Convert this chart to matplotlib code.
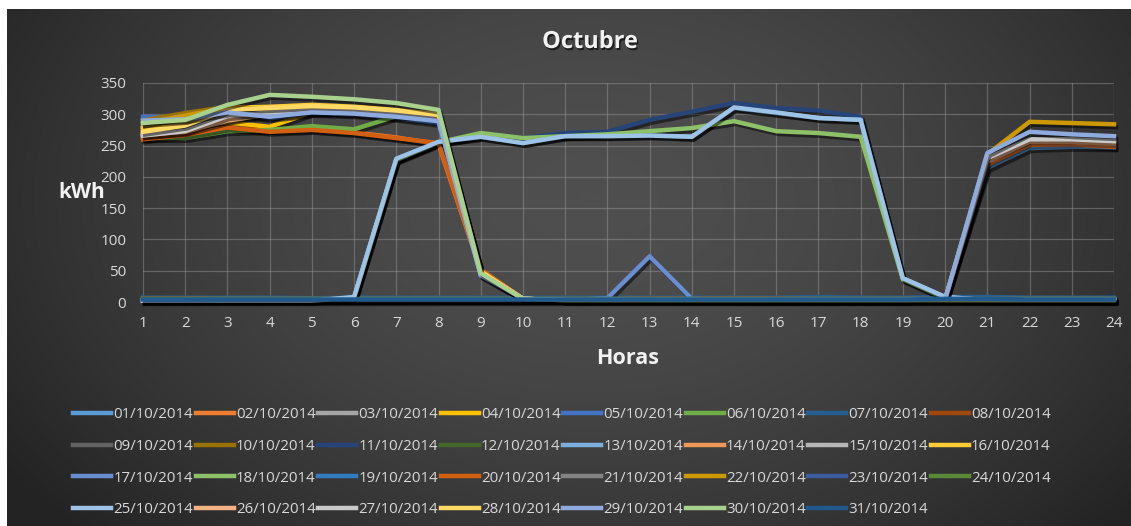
import numpy as np
import matplotlib.pyplot as plt
import matplotlib.patheffects as pe
from matplotlib.lines import Line2D

plt.rcParams['font.family'] = ['Open Sans', 'Noto Sans', 'DejaVu Sans']

horas = list(range(1, 25))

# consumo por hora (kWh) de cada dia de octubre
d01 = [280, 285, 300, 302, 305, 303, 298, 292, 45, 4, 3, 3, 3, 3, 3, 3, 3, 3, 3, 4, 214, 246, 248, 247]
d02 = [263, 269, 281, 274, 276, 271, 263, 252, 50, 4, 3, 3, 3, 3, 3, 3, 3, 3, 3, 4, 219, 251, 252, 248]
d03 = [265, 275, 296, 305, 307, 305, 301, 295, 45, 4, 3, 3, 3, 3, 3, 3, 3, 3, 3, 3, 3, 3, 3, 3]
d04 = [276, 283, 287, 280, 303, 305, 302, 298, 51, 5, 3, 3, 3, 3, 3, 3, 3, 3, 3, 3, 3, 3, 3, 3]
d05 = [296, 294, 302, 294, 302, 300, 294, 286, 42, 4, 3, 3, 3, 3, 3, 3, 3, 3, 3, 3, 3, 3, 3, 3]
d06 = [262, 262, 273, 275, 281, 276, 297, 300, 48, 5, 3, 3, 3, 3, 3, 3, 3, 3, 3, 3, 3, 3, 3, 3]
d07 = [7, 7, 7, 7, 6, 7, 7, 7, 7, 7, 7, 7, 7, 7, 7, 7, 8, 7, 7, 8, 8, 7, 7, 7]
d08 = [6, 6, 5, 5, 5, 5, 5, 5, 5, 5, 5, 5, 6, 6, 6, 6, 5, 5, 5, 5, 5, 5, 5, 5]
d09 = [3, 3, 3, 3, 3, 3, 3, 3, 3, 3, 3, 3, 3, 3, 3, 3, 3, 3, 3, 3, 3, 3, 3, 3]
d10 = [290, 302, 312, 310, 309, 307, 304, 300, 47, 5, 3, 3, 3, 3, 3, 3, 3, 3, 3, 3, 3, 3, 3, 3]
d11 = [3, 3, 3, 3, 3, 6, 226, 254, 266, 262, 270, 272, 291, 304, 318, 310, 306, 296, 37, 6, 4, 4, 4, 4]
d12 = [4, 4, 4, 4, 4, 4, 4, 4, 4, 4, 4, 4, 4, 4, 4, 4, 4, 4, 4, 4, 4, 4, 4, 4]
d13 = [2, 2, 2, 2, 2, 7, 228, 255, 264, 254, 265, 265, 267, 264, 310, 302, 294, 291, 38, 8, 3, 3, 3, 3]
d14 = [268, 275, 291, 304, 310, 308, 305, 298, 48, 5, 3, 3, 3, 3, 3, 3, 3, 3, 3, 3, 3, 3, 3, 3]
d15 = [270, 276, 300, 306, 309, 306, 302, 297, 46, 5, 3, 3, 3, 3, 3, 3, 3, 3, 3, 3, 3, 3, 3, 3]
d16 = [278, 285, 310, 312, 315, 312, 307, 300, 50, 5, 3, 3, 3, 3, 3, 3, 3, 3, 3, 3, 3, 3, 3, 3]
d17 = [3, 3, 3, 3, 3, 3, 3, 3, 3, 3, 3, 6, 73, 5, 3, 3, 3, 3, 3, 3, 3, 3, 3, 3]
d18 = [3, 3, 3, 3, 3, 6, 227, 255, 270, 262, 265, 268, 273, 278, 289, 273, 270, 264, 36, 6, 3, 3, 3, 3]
d19 = [4, 4, 4, 4, 4, 4, 4, 4, 4, 4, 4, 4, 4, 4, 4, 4, 4, 4, 4, 4, 4, 4, 4, 4]
d20 = [260, 267, 279, 272, 275, 270, 262, 254, 52, 5, 3, 3, 3, 3, 3, 3, 3, 3, 3, 3, 3, 3, 3, 3]
d21 = [2, 2, 2, 2, 2, 2, 2, 2, 2, 2, 2, 2, 2, 2, 2, 2, 2, 2, 2, 2, 2, 2, 2, 2]
d22 = [285, 298, 310, 309, 310, 308, 304, 299, 47, 5, 3, 3, 3, 3, 3, 3, 3, 3, 3, 4, 236, 288, 286, 284]
d23 = [4, 4, 4, 4, 4, 4, 4, 4, 4, 4, 4, 4, 4, 4, 4, 4, 4, 4, 4, 4, 4, 4, 4, 4]
d24 = [4, 4, 4, 4, 4, 4, 4, 4, 4, 4, 4, 4, 4, 4, 4, 4, 4, 4, 4, 4, 4, 4, 4, 4]
d25 = [2, 2, 2, 2, 2, 8, 229, 256, 264, 254, 265, 265, 266, 264, 311, 303, 294, 291, 38, 8, 3, 3, 3, 3]
d26 = [267, 272, 290, 300, 306, 305, 302, 296, 46, 5, 3, 3, 3, 3, 3, 3, 3, 3, 3, 4, 224, 256, 256, 253]
d27 = [266, 273, 297, 303, 306, 304, 300, 294, 45, 5, 3, 3, 3, 3, 3, 3, 3, 3, 3, 4, 230, 260, 260, 257]
d28 = [272, 282, 307, 310, 313, 311, 306, 299, 49, 5, 3, 3, 3, 3, 3, 3, 3, 3, 3, 3, 3, 3, 3, 3]
d29 = [290, 292, 303, 296, 303, 301, 296, 289, 43, 5, 3, 3, 3, 3, 3, 3, 3, 3, 3, 4, 238, 272, 268, 265]
d30 = [286, 291, 315, 331, 328, 324, 318, 307, 46, 5, 3, 3, 3, 3, 3, 3, 3, 3, 3, 3, 3, 3, 3, 3]
d31 = [4, 4, 4, 4, 4, 4, 4, 4, 4, 4, 4, 4, 4, 4, 4, 4, 4, 4, 4, 5, 5, 4, 4, 4]

dias = [d01, d02, d03, d04, d05, d06, d07, d08, d09, d10, d11, d12, d13, d14, d15, d16,
        d17, d18, d19, d20, d21, d22, d23, d24, d25, d26, d27, d28, d29, d30, d31]
etiquetas = ['%02d/10/2014' % i for i in range(1, 32)]
colores = ['#5b9bd5', '#ed7d31', '#a5a5a5', '#ffc000', '#4472c4', '#70ad47', '#255e91', '#9e480e',
           '#636363', '#997300', '#264478', '#43682b', '#7cafdd', '#f1975a', '#b7b7b7', '#ffcd33',
           '#698ed0', '#8cc168', '#327dc2', '#d26012', '#848484', '#cc9a00', '#3a5da0', '#5a8a39',
           '#9dc3e6', '#f4b183', '#c9c9c9', '#ffd966', '#8faadc', '#a9d18e', '#22598c']

W, H = 1131, 526
fig = plt.figure(figsize=(W / 100, H / 100), dpi=100, facecolor='white')

# fondo con degradado radial
fondo = fig.add_axes([7 / W, 0, (W - 7) / W, (H - 9) / H])
yy, xx = np.mgrid[0:H - 9, 0:W - 7]
r = np.sqrt(((xx - 583) / 700.0) ** 2 + ((yy - 190) / 480.0) ** 2)
v = 0.14 + (0.31 - 0.14) * np.clip(1 - r ** 1.6, 0, 1)
fondo.imshow(np.dstack([v, v, v]), aspect='auto', interpolation='bilinear')
fondo.axis('off')

ax = fig.add_axes([143 / W, 224 / H, 971 / W, 219 / H])
ax.patch.set_alpha(0)
sombra = [pe.SimpleLineShadow(offset=(1.5, -2), shadow_color='black', alpha=0.5), pe.Normal()]
for serie, col in zip(dias, colores):
    ax.plot(horas, serie, color=col, lw=3.2, solid_joinstyle='round', path_effects=sombra, clip_on=False)

ax.set_xlim(1, 24)
ax.set_ylim(0, 350)
ax.set_xticks(horas)
ax.set_yticks(range(0, 351, 50))
ax.grid(True, color='#9a9a9a', alpha=0.45, lw=0.9)
ax.set_axisbelow(True)
for s in ax.spines.values():
    s.set_visible(False)
ax.tick_params(length=0, colors='#d9d9d9', labelsize=11, pad=10)
ax.tick_params(axis='y', pad=12)

txt_sombra = [pe.withSimplePatchShadow(offset=(1, -1.5), shadow_rgbFace='black', alpha=0.6)]
fig.text(590 / W, 1 - 42 / H, 'Octubre', ha='center', va='center', fontsize=17, fontweight='bold',
         color='#f2f2f2', path_effects=txt_sombra)
fig.text(82 / W, 1 - 192 / H, 'kWh', ha='center', va='center', fontsize=15, fontweight='bold',
         color='#f2f2f2')
fig.text(628 / W, 1 - 359 / H, 'Horas', ha='center', va='center', fontsize=15.5, fontweight='bold',
         color='#f2f2f2')

# leyenda en filas de 8 (matplotlib rellena por columnas)
orden = [f * 8 + c for c in range(8) for f in range(4) if f * 8 + c < 31]
manejadores = [Line2D([], [], color=colores[i], lw=3.2) for i in orden]
fig.legend(manejadores, [etiquetas[i] for i in orden], ncol=8, loc='upper left',
           bbox_to_anchor=(73 / W, 1 - 407 / H), frameon=False, fontsize=10.8,
           handlelength=2.55, handletextpad=0.15, columnspacing=0.15, labelspacing=1.12,
           borderpad=0, borderaxespad=0, labelcolor='#d9d9d9')

fig.savefig('out.png', dpi=100, facecolor=fig.get_facecolor())
